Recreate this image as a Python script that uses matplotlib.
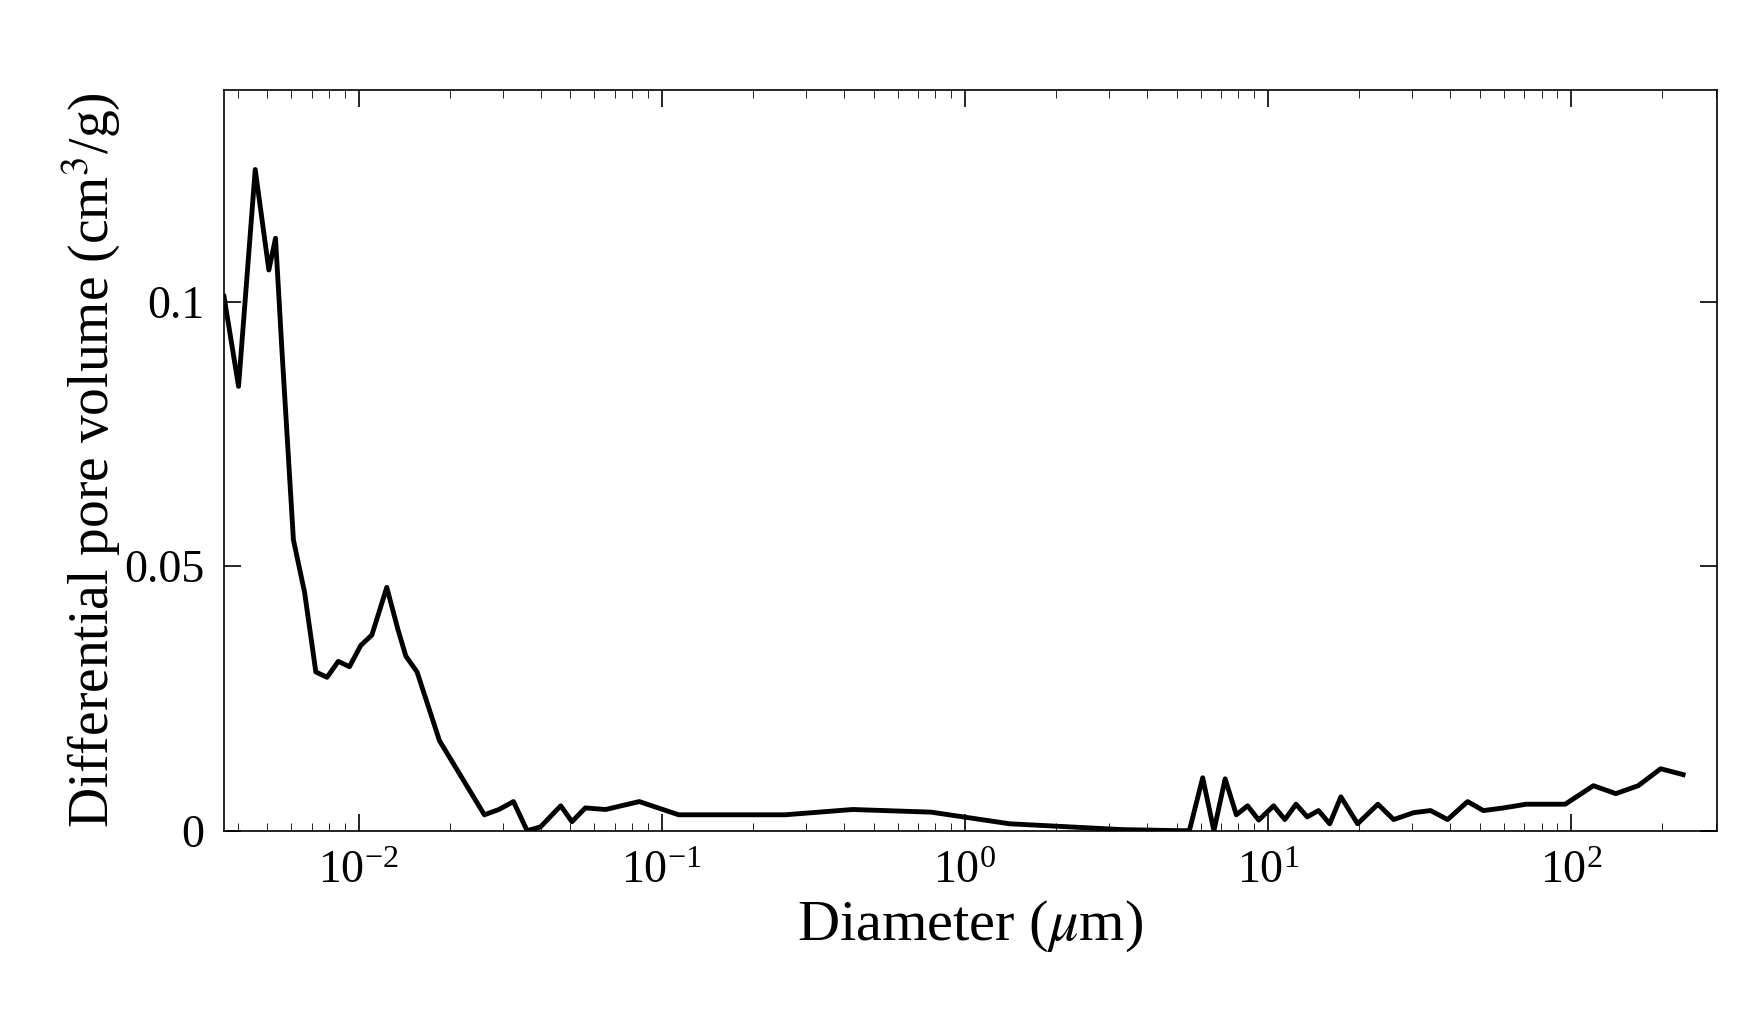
import matplotlib.pyplot as plt
import numpy as np
from matplotlib.ticker import FixedLocator, LogLocator, NullFormatter

# values: log10(diameter in um) and differential pore volume
log_d = [-2.444, -2.396, -2.341, -2.296, -2.274, -2.252, -2.215, -2.178, -2.141, -2.104,
         -2.067, -2.030, -1.993, -1.956, -1.907, -1.870, -1.844, -1.807, -1.733, -1.659,
         -1.585, -1.537, -1.489, -1.444, -1.400, -1.333, -1.296, -1.252, -1.185, -1.074,
         -0.944, -0.593, -0.370, -0.111, 0.148, 0.519, 0.704, 0.741, 0.785, 0.822,
         0.859, 0.896, 0.933, 0.970, 1.019, 1.056, 1.093, 1.130, 1.167, 1.204,
         1.241, 1.296, 1.363, 1.415, 1.481, 1.537, 1.593, 1.659, 1.711, 1.778,
         1.852, 1.981, 2.074, 2.148, 2.222, 2.296, 2.370]
volume = [0.101, 0.084, 0.125, 0.106, 0.112, 0.090, 0.055, 0.045, 0.030, 0.029,
          0.032, 0.031, 0.035, 0.037, 0.046, 0.038, 0.033, 0.030, 0.017, 0.010,
          0.003, 0.004, 0.0055, 0.0, 0.0007, 0.0047, 0.0017, 0.0043, 0.004, 0.0055,
          0.003, 0.003, 0.004, 0.0035, 0.0013, 0.0002, 0.0, 0.0, 0.010, 0.0,
          0.0098, 0.003, 0.0047, 0.002, 0.0047, 0.0021, 0.005, 0.0026, 0.0038, 0.0013,
          0.0064, 0.0013, 0.005, 0.0021, 0.0034, 0.0038, 0.0021, 0.0055, 0.0038, 0.0043,
          0.005, 0.005, 0.0085, 0.007, 0.0085, 0.0117, 0.0106]

plt.rcParams['font.family'] = ['Liberation Serif', 'DejaVu Serif']
plt.rcParams['mathtext.fontset'] = 'stix'
plt.rcParams['axes.unicode_minus'] = False

fig = plt.figure(figsize=(17.5, 10.13), dpi=100)
ax = fig.add_axes([0.128, 0.18, 0.853, 0.731])
ax.plot(10 ** np.array(log_d), volume, color='black', lw=3.5)
ax.set_xscale('log')
ax.set_xlim(10 ** -2.444, 10 ** 2.481)
ax.set_ylim(0, 0.14)
ax.set_yticks([0, 0.05, 0.1])
ax.set_yticklabels(['0', '0.05', '0.1'])
ax.xaxis.set_major_locator(FixedLocator([1e-2, 1e-1, 1, 10, 100]))
ax.xaxis.set_minor_locator(LogLocator(base=10, subs=np.arange(2, 10)))
ax.xaxis.set_minor_formatter(NullFormatter())
ax.tick_params(direction='in', top=True, right=True, labelsize=33, length=12, width=1.2, pad=14)
ax.tick_params(which='minor', direction='in', top=True, length=6)
ax.set_xlabel('Diameter ($\\mu$m)', fontsize=42, labelpad=4)
ax.set_ylabel('Differential pore volume (cm$^3$/g)', fontsize=40, labelpad=2)
for s in ax.spines.values():
    s.set_linewidth(1.2)
fig.savefig('out.png')
